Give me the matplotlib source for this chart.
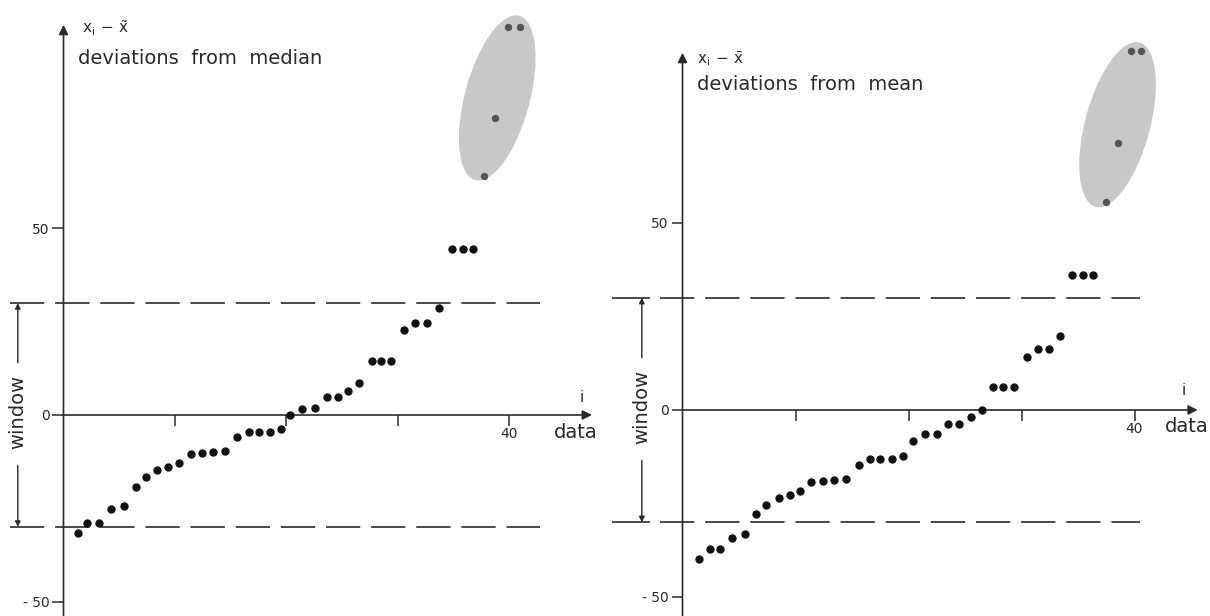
import matplotlib
matplotlib.use("Agg")
import matplotlib.pyplot as plt
from matplotlib.patches import Ellipse
from matplotlib.transforms import ScaledTranslation

median_x = [1.3, 2.1, 3.2, 4.3, 5.4, 6.5, 7.4, 8.4, 9.4, 10.4, 11.4, 12.4, 13.4, 14.5,
            15.6, 16.6, 17.5, 18.5, 19.5, 20.3, 21.4, 22.6, 23.6, 24.6, 25.5, 26.5,
            27.7, 28.5, 29.4, 30.5, 31.5, 32.6, 33.7, 34.8, 35.8, 36.7, 37.7, 38.7,
            39.9, 40.9]
median_dev = [-31.6, -28.9, -28.9, -25.3, -24.4, -19.2, -16.5, -14.7, -13.9, -13.0,
              -10.5, -10.3, -9.8, -9.7, -6.0, -4.6, -4.5, -4.5, -3.8, 0.0, 1.7, 1.8,
              4.7, 4.7, 6.4, 8.5, 14.6, 14.6, 14.6, 22.8, 24.7, 24.7, 28.8, 44.4, 44.4,
              44.4, 64.2, 79.7, 104.0, 104.0]

mean_x = [1.5, 2.4, 3.3, 4.4, 5.5, 6.5, 7.4, 8.5, 9.5, 10.4, 11.4, 12.4, 13.4, 14.5,
          15.6, 16.6, 17.5, 18.5, 19.5, 20.4, 21.5, 22.5, 23.5, 24.5, 25.5, 26.5,
          27.5, 28.4, 29.3, 30.5, 31.5, 32.4, 33.4, 34.5, 35.4, 36.3, 37.5, 38.5,
          39.7, 40.6]
mean_dev = [-39.8, -37.2, -37.2, -34.3, -33.2, -27.8, -25.4, -23.6, -22.7, -21.7,
            -19.2, -18.9, -18.6, -18.4, -14.7, -13.1, -13.1, -13.1, -12.3, -8.2, -6.5,
            -6.5, -3.7, -3.7, -1.8, 0.0, 6.1, 6.1, 6.1, 14.3, 16.2, 16.2, 19.9, 36.1,
            36.1, 36.1, 55.5, 71.3, 96.1, 96.1]

n_outliers = 4          # last points, shaded as outliers
window = 30             # +/- window half width
y_ticks = [-50, 0, 50]
y_tick_labels = ["- 50", "0", "50"]
x_ticks = [10, 20, 30, 40]
x_tick_labels = ["", "", "", "40"]

W, H = 1210, 616
INK = "#2a2a2a"
SHADE = "#c8c8c8"

fig = plt.figure(figsize=(W / 100, H / 100), dpi=100)


def panel_axes(origin, scale, xlim, ylim):
    # place an axes so that data (0, 0) lands on origin (pixels)
    ox, oy = origin
    sx, sy = scale
    x0, x1 = ox + sx * xlim[0], ox + sx * xlim[1]
    y0, y1 = oy - sy * ylim[0], oy - sy * ylim[1]
    ax = fig.add_axes([x0 / W, 1 - y0 / H, (x1 - x0) / W, (y0 - y1) / H])
    ax.set_xlim(xlim)
    ax.set_ylim(ylim)
    ax.patch.set_visible(False)
    for side in ["top", "right", "left", "bottom"]:
        ax.spines[side].set_color("none")
    ax.spines["left"].set_position(("data", 0))
    ax.spines["bottom"].set_position(("data", 0))
    ax.set_yticks(y_ticks, y_tick_labels)
    ax.set_xticks(x_ticks, x_tick_labels)
    ax.tick_params(axis="y", direction="out", length=8, width=1.1, color=INK,
                   labelsize=10, labelcolor=INK, pad=2)
    ax.tick_params(axis="x", direction="out", length=8, width=1.1, color=INK,
                   labelsize=10, labelcolor=INK, pad=1)
    return ax


def draw_panel(ax, xs, devs, y_top, x_end, ell_center, win_x, dash_x, bar_x,
               ylabel, title, i_pos, data_pos):
    ylo = ax.get_ylim()[0]
    arrow = dict(arrowstyle="-|>", color=INK, lw=1.2, mutation_scale=14,
                 shrinkA=0, shrinkB=0)
    ax.annotate("", xy=(0, y_top), xytext=(0, ylo), arrowprops=arrow,
                annotation_clip=False)
    ax.annotate("", xy=(x_end, 0), xytext=(0, 0), arrowprops=arrow,
                annotation_clip=False)

    # window limits
    ax.hlines([window, -window], dash_x[0], dash_x[1], colors="#3a3a3a",
              linewidth=1.3, linestyles=(0, (19, 6)))
    if bar_x is not None:
        ax.hlines([window, -window], bar_x[0], bar_x[1], colors="#3a3a3a",
                  linewidth=1.3)
    small = dict(arrowstyle="-|>", color=INK, lw=1.0, mutation_scale=8,
                 shrinkA=0, shrinkB=0)
    ax.annotate("", xy=(win_x, window), xytext=(win_x, 14), arrowprops=small,
                annotation_clip=False)
    ax.annotate("", xy=(win_x, -window), xytext=(win_x, -13.5), arrowprops=small,
                annotation_clip=False)
    ax.text(win_x, 0.8, "window", rotation=90, ha="center", va="center",
            fontsize=14, color=INK)

    # shaded outlier region
    trans = fig.dpi_scale_trans + ScaledTranslation(ell_center[0], ell_center[1],
                                                    ax.transData)
    ax.add_patch(Ellipse((0, 0), 0.65, 1.70, angle=-15, transform=trans,
                         facecolor=SHADE, edgecolor="none", zorder=1))

    ax.plot(xs[:-n_outliers], devs[:-n_outliers], "o", color="#111111",
            markersize=5, zorder=3, clip_on=False)
    ax.plot(xs[-n_outliers:], devs[-n_outliers:], "o", color="#555555",
            markersize=4.3, zorder=3, clip_on=False)

    ax.text(ylabel[0], ylabel[1], ylabel[2], fontsize=11, color=INK,
            ha="left", va="center")
    ax.text(title[0], title[1], title[2], fontsize=14, color=INK,
            ha="left", va="center")
    ax.text(i_pos[0], i_pos[1], "i", fontsize=11, color=INK, ha="center",
            va="center")
    ax.text(data_pos[0], data_pos[1], "data", fontsize=14, color=INK,
            ha="left", va="center")


ax1 = panel_axes((63.5, 415), (11.15, 3.73), (-5.6, 48.5), (-54.5, 111))
draw_panel(ax1, median_x, median_dev, y_top=104.6, x_end=47.4,
           ell_center=(38.9, 85), win_x=-4.1, dash_x=(-4.8, 42.7), bar_x=None,
           ylabel=(1.65, 103.6, r"$\mathrm{x}_\mathrm{i}\,-\,\tilde{\mathrm{x}}$"),
           title=(1.3, 95.6, "deviations  from  median"),
           i_pos=(46.5, 4.8), data_pos=(44.0, -4.6))

ax2 = panel_axes((682.5, 410), (11.3, 3.74), (-7.5, 47), (-56, 110))
draw_panel(ax2, mean_x, mean_dev, y_top=95.5, x_end=45.6,
           ell_center=(38.5, 76.3), win_x=-3.6, dash_x=(-2.0, 40.5),
           bar_x=(-6.2, -2.9),
           ylabel=(1.28, 94, r"$\mathrm{x}_\mathrm{i}\,-\,\bar{\mathrm{x}}$"),
           title=(1.25, 87, "deviations  from  mean"),
           i_pos=(44.4, 5.3), data_pos=(42.7, -4.4))

fig.savefig("out.png", dpi=100)
